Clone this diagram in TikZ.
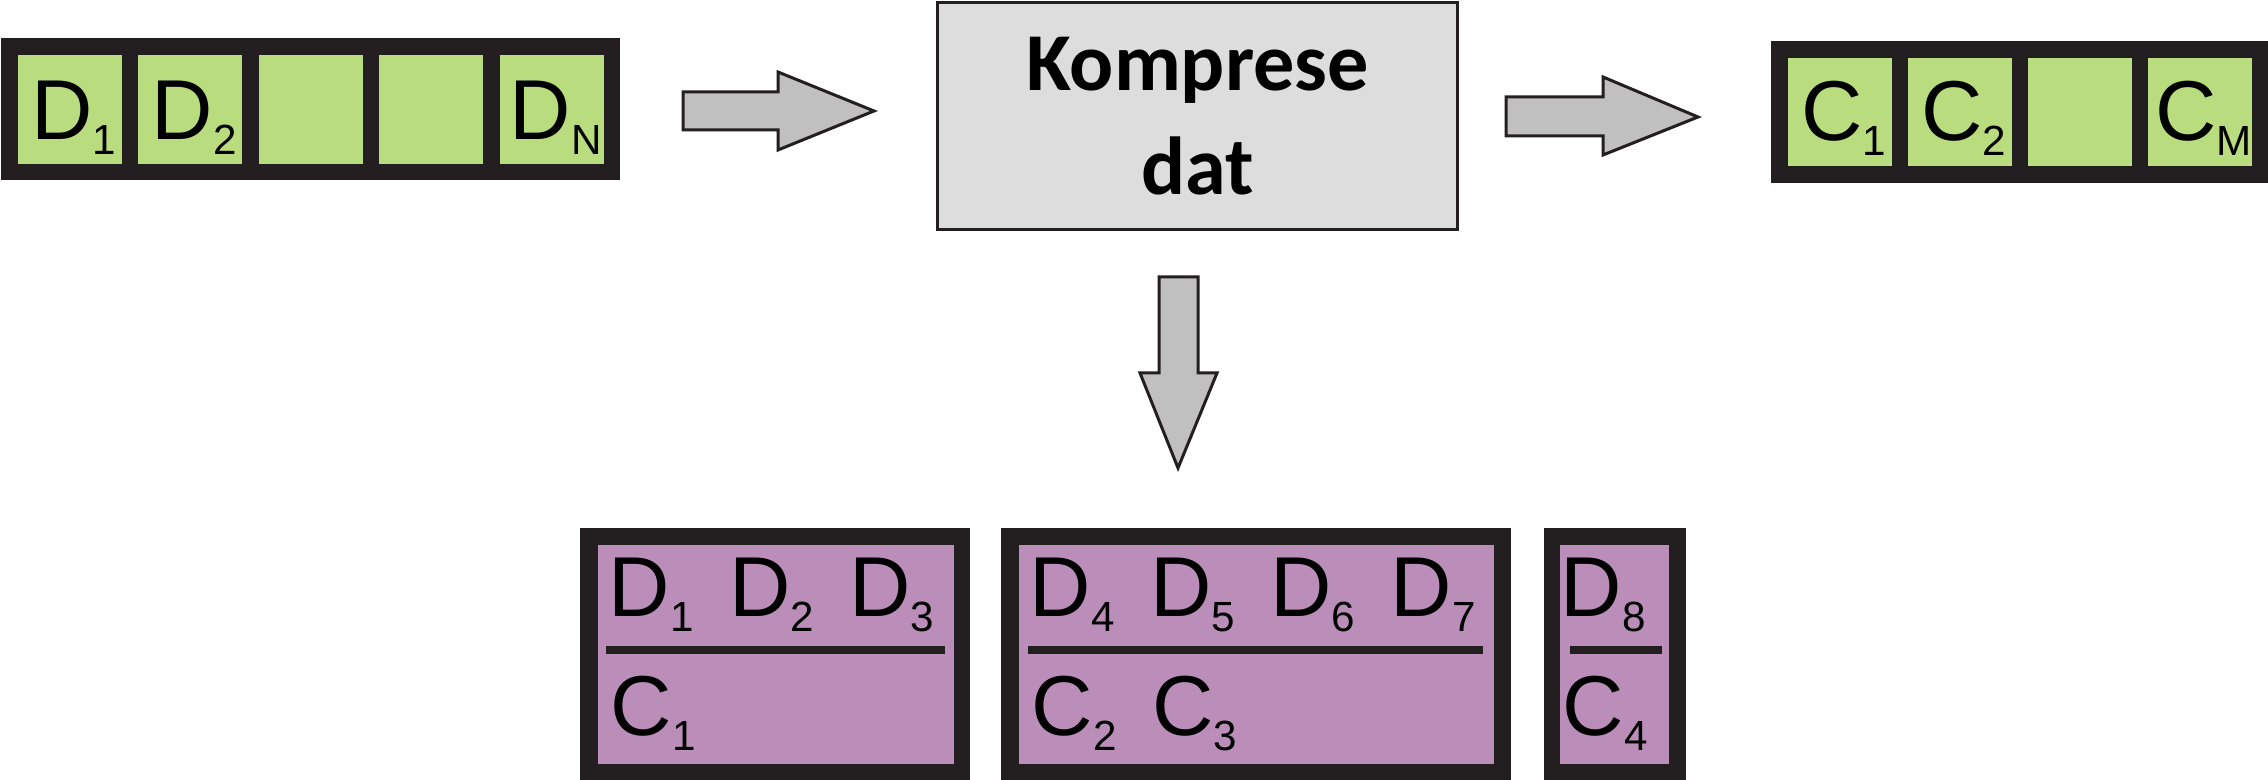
\documentclass[tikz,border=0pt]{standalone}
\usepackage{fontspec}
\setmainfont{Liberation Sans}
\newfontfamily\headfont{Carlito}
\definecolor{cellgreen}{RGB}{185,221,126}
\definecolor{blockviolet}{RGB}{187,142,186}
\definecolor{framedark}{RGB}{35,31,32}
\definecolor{boxgray}{RGB}{221,221,221}
\definecolor{arrowgray}{RGB}{192,192,192}
\newcommand{\idx}[2]{#1\raisebox{-1.5mm}{\fontsize{12pt}{12pt}\selectfont #2}}
\begin{document}
\begin{tikzpicture}[x=0.1mm,y=-0.1mm,
  frame/.style={fill=framedark,draw=none,inner sep=0,anchor=north west},
  cell/.style={fill=cellgreen,draw=none,inner sep=0,anchor=north west,minimum width=10.4mm,minimum height=10.9mm},
  block/.style={fill=blockviolet,draw=none,inner sep=0,anchor=north west,minimum height=21.9mm},
  lbl/.style={inner sep=0,font=\fontsize{24.2pt}{28pt}\selectfont},
  fatarrow/.style={fill=arrowgray,draw=framedark,line width=0.3mm,line join=miter},
  divline/.style={draw=framedark,line width=0.75mm}]
 \useasboundingbox (0,0) rectangle (2268,780);
 \node[frame,minimum width=61.9mm,minimum height=14.2mm] (inbar) at (0,37) {};
 \foreach \i/\x in {1/17,2/137.5,3/258,4/378.5,5/499}
   \node[cell] (d\i) at (\x,54) {};
 \node[lbl,anchor=base] (td1) at ([xshift=0.4mm,yshift=2.5mm]d1.south) {\idx{D}{1}};
 \node[lbl,anchor=base] (td2) at ([xshift=0.4mm,yshift=2.5mm]d2.south) {\idx{D}{2}};
 \node[lbl,anchor=base] (tdn) at ([xshift=0.4mm,yshift=2.5mm]d5.south) {\idx{D}{N}};
 \draw[fatarrow] (683,92) -- (778,92) -- (778,72) -- (874,111) -- (778,150) -- (778,130) -- (683,130) -- cycle;
 \node[fill=boxgray,draw=framedark,line width=0.3mm,anchor=north west,minimum width=52mm,minimum height=22.7mm] (komp) at (936,1) {};
 \node[align=center,font=\headfont\bfseries\fontsize{23.4pt}{29.6pt}\selectfont] (komptext) at (komp.center) {Komprese\\dat};
 \draw[fatarrow] (1506,97) -- (1603,97) -- (1603,77) -- (1698,117) -- (1603,155) -- (1603,136) -- (1506,136) -- cycle;
 \node[frame,minimum width=49.8mm,minimum height=14.2mm] (outbar) at (1770,40) {};
 \foreach \i/\x in {1/1787,2/1907,3/2027,4/2147}
   \node[cell,minimum height=10.8mm] (c\i) at (\x,57) {};
 \node[lbl,anchor=base] (tc1) at ([xshift=0.4mm,yshift=2.6mm]c1.south) {\idx{C}{1}};
 \node[lbl,anchor=base] (tc2) at ([xshift=0.4mm,yshift=2.6mm]c2.south) {\idx{C}{2}};
 \node[lbl,anchor=base] (tcm) at ([xshift=0.4mm,yshift=2.6mm]c4.south) {\idx{C}{M}};
 \draw[fatarrow] (1159,277) -- (1198,277) -- (1198,373) -- (1217,373) -- (1178,468) -- (1140,373) -- (1159,373) -- cycle;
 \node[frame,minimum width=39mm,minimum height=25.3mm] (f1) at (579,527) {};
 \node[block,minimum width=35.6mm] (b1) at (597,544) {};
 \draw[divline] (606,650) -- (945,650);
 \node[lbl,anchor=base west] (b1top) at (608,617) {\idx{D}{1}\hspace{3.55mm}\idx{D}{2}\hspace{3.55mm}\idx{D}{3}};
 \node[lbl,anchor=base west] (b1bot) at (610,736) {\idx{C}{1}};
 \node[frame,minimum width=51mm,minimum height=25.3mm] (f2) at (1000,527) {};
 \node[block,minimum width=47.5mm] (b2) at (1018,544) {};
 \draw[divline] (1028,650) -- (1483,650);
 \node[lbl,anchor=base west] (b2top) at (1029,617) {\idx{D}{4}\hspace{3.55mm}\idx{D}{5}\hspace{3.55mm}\idx{D}{6}\hspace{3.55mm}\idx{D}{7}};
 \node[lbl,anchor=base west] (b2bot) at (1031,736) {\idx{C}{2}\hspace{3.55mm}\idx{C}{3}};
 \node[frame,minimum width=14.2mm,minimum height=25.3mm] (f3) at (1543,527) {};
 \node[block,minimum width=10.9mm] (b3) at (1559,544) {};
 \draw[divline] (1570,650) -- (1662,650);
 \node[lbl,anchor=base west] (b3top) at (1560,617) {\idx{D}{8}};
 \node[lbl,anchor=base west] (b3bot) at (1562,736) {\idx{C}{4}};
\end{tikzpicture}
\end{document}
